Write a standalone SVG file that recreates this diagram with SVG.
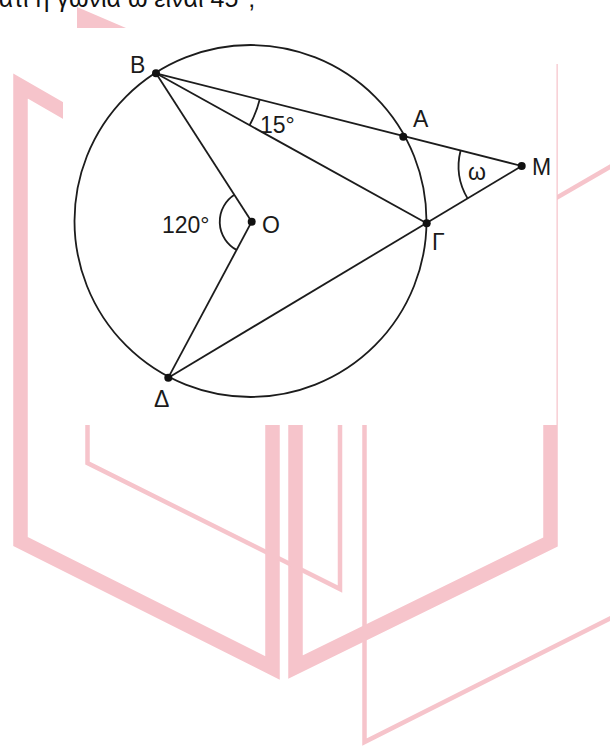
<svg xmlns="http://www.w3.org/2000/svg" width="610" height="749" viewBox="0 0 610 749">
  <style>
    .wm { fill: none; stroke: #f6c4cb; stroke-linejoin: miter; stroke-miterlimit: 10; }
    .thick { stroke-width: 14.5; }
    .thin { stroke-width: 4.5; }
    .ln { fill: none; stroke: #1c1c1c; stroke-width: 1.8; }
    .dot { fill: #111; }
    .lbl { font-family: "Liberation Sans", Arial, sans-serif; font-size: 23px; fill: #1a1a1a; }
    .top { font-family: "Liberation Sans", "Noto Sans", Arial, sans-serif; font-size: 25px; fill: #111; }
  </style>

  <rect x="0" y="0" width="610" height="749" fill="#ffffff"/>

  <!-- watermark background shapes -->
  <g id="watermark">
    <polyline class="wm thick" points="120,143.4 20.5,86 20.5,541.5 272.5,668 272.5,420"/>
    <polyline class="wm thick" points="295.5,420 295.5,667 550.5,542 550.5,64"/>
    <polyline class="wm thin" points="87.5,420 87.5,463 340,589 340,420"/>
    <polyline class="wm thin" points="364.5,420 364.5,742 615,616"/>
    <line class="wm thin" x1="540" y1="207.4" x2="615" y2="164"/>
    <polygon points="77,7 77,28 126,28" fill="#f6c4cb"/>
  </g>

  <!-- white panel of the figure -->
  <rect x="63" y="28" width="493.5" height="397" fill="#ffffff"/>

  <!-- circle -->
  <g id="circle">
    <circle cx="250.5" cy="221" r="176" class="ln"/>
  </g>

  <!-- connectors -->
  <g id="connectors">
    <line class="ln" x1="156" y1="73.3" x2="521.7" y2="166"/>
    <line class="ln" x1="156" y1="73.3" x2="426.7" y2="223.3"/>
    <line class="ln" x1="156" y1="73.3" x2="251.7" y2="221.7"/>
    <line class="ln" x1="251.7" y1="221.7" x2="168.3" y2="377.7"/>
    <line class="ln" x1="168.3" y1="377.7" x2="521.7" y2="166"/>
  </g>

  <!-- angle marks -->
  <g id="angles">
    <path class="ln" d="M 259.7 99.5 A 107 107 0 0 1 249.6 125.2"/>
    <path class="ln" d="M 234.4 194.8 A 32 32 0 0 0 236.6 249.9"/>
    <path class="ln" d="M 460.6 150.5 A 63 63 0 0 0 467.7 198.6"/>
    <text class="lbl" x="260" y="133">15°</text>
    <text class="lbl" x="162" y="233">120°</text>
    <text class="lbl" x="468" y="180">ω</text>
  </g>

  <!-- points -->
  <g id="node-B">
    <circle class="dot" cx="156" cy="73.3" r="4"/>
    <text class="lbl" x="130" y="73">B</text>
  </g>
  <g id="node-A">
    <circle class="dot" cx="403.3" cy="136.7" r="4"/>
    <text class="lbl" x="413" y="127">A</text>
  </g>
  <g id="node-M">
    <circle class="dot" cx="521.7" cy="166" r="4"/>
    <text class="lbl" x="532" y="175">M</text>
  </g>
  <g id="node-G">
    <circle class="dot" cx="426.7" cy="223.3" r="4"/>
    <text class="lbl" x="432" y="250">Γ</text>
  </g>
  <g id="node-D">
    <circle class="dot" cx="168.3" cy="377.7" r="4"/>
    <text class="lbl" x="154" y="407">Δ</text>
  </g>
  <g id="node-O">
    <circle class="dot" cx="251.7" cy="221.7" r="4"/>
    <text class="lbl" x="262" y="233">O</text>
  </g>

  <!-- cut-off caption at the top -->
  <text class="top" x="-19.5" y="6.5">Γιατί η γωνία ω είναι 45°;</text>
</svg>
